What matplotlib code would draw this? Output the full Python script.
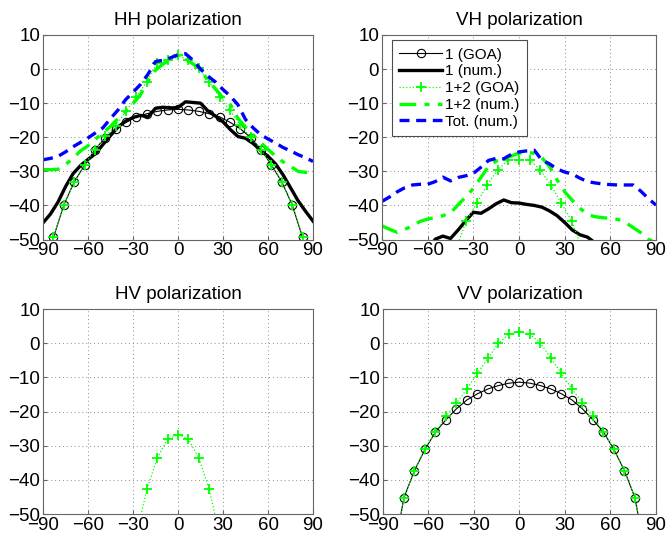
import numpy as np
import matplotlib
matplotlib.use("Agg")
import matplotlib.pyplot as plt

plt.rcParams['font.family'] = ['Liberation Sans', 'DejaVu Sans']
plt.rcParams['axes.unicode_minus'] = True

# angle grids
goa_x = np.linspace(-90, 90, 27)          # GOA samples (180/26 deg step)
num_x = np.arange(-90, 91, 5)             # numerical samples

# ---- HH ----
hh_goa1 = [np.nan, -49.4, -39.9, -33.1, -28.2, -23.6, -20.1, -17.5, -15.6, -14.0, -13.1, -12.4, -12.0,
           -11.8, -12.0, -12.4, -13.1, -14.0, -15.6, -17.5, -20.1, -23.6, -28.2, -33.1, -39.9, -49.4, np.nan]
hh_goa12 = [np.nan, -49.4, -39.9, -33.1, -28.2, -23.6, -19.7, -16.7, -12.3, -8.1, -3.7, 1.8, 2.6,
            4.0, 2.6, 0.3, -3.8, -8.2, -12.1, -16.5, -19.9, -23.6, -28.2, -33.1, -39.9, -49.4, np.nan]
hh_num1 = [-45.1, -42.5, -39.0, -34.5, -30.7, -28.3, -26.5, -24.8, -22.1, -19.5, -17.0, -15.3, -14.2,
           -13.6, -14.0, -11.5, -11.2, -11.4, -11.3, -9.6, -9.8, -10.0, -12.3, -13.8, -15.5, -17.8,
           -19.8, -20.3, -21.8, -23.8, -25.6, -27.8, -31.0, -34.8, -38.6, -41.7, -44.6]
hh_num12 = [-29.5, -29.5, -29.4, -28.0, -26.2, -24.0, -22.5, -20.5, -18.8, -16.8, -14.5, -12.5, -10.2,
            -7.5, -3.5, -0.3, 1.5, 2.7, 4.2, 3.0, 1.5, 0.0, -3.5, -5.8, -8.5, -10.5, -14.5, -17.0,
            -19.3, -21.5, -23.6, -25.5, -27.2, -28.5, -30.0, -30.3, -30.3]
hh_tot = [-26.6, -26.2, -25.6, -24.3, -22.8, -21.5, -20.2, -18.7, -17.2, -14.5, -12.0, -9.0, -6.8,
          -4.5, -1.5, 2.2, 2.6, 3.3, 4.2, 4.5, 2.6, 0.0, -2.1, -3.8, -6.0, -8.0, -10.5, -14.8, -17.2,
          -19.2, -20.5, -21.7, -23.0, -24.0, -25.1, -26.0, -27.1]

# ---- VH ----
vh_goa12 = [np.nan] * 7 + [-53.0, -44.5, -39.3, -33.9, -29.5, -26.6,
                           -26.6, -26.6, -29.5, -33.9, -39.3, -44.5, -53.0] + [np.nan] * 7
vh_num1 = [-58, -58, -58, -58, -58, -56, -53, -49.9, -49.0, -49.7, -47.2, -44.5, -42.0, -42.3,
           -41.0, -39.5, -38.4, -39.2, -39.3, -39.7, -40.0, -40.5, -41.6, -43.0, -45.0, -47.2,
           -48.6, -49.3, -51.0, -54, -58, -58, -58, -58, -58, -58, -58]
vh_num12 = [-46.0, -47.0, -47.9, -47.0, -46.0, -44.7, -44.0, -43.6, -43.0, -42.2, -39.8, -37.5, -35.0,
            -31.8, -28.5, -27.0, -26.2, -25.5, -24.6, -24.5, -24.7, -26.0, -28.5, -32.5, -36.0, -38.5,
            -40.8, -42.7, -43.3, -43.6, -43.8, -44.1, -45.0, -46.5, -48.0, -49.9, -51.0]
vh_tot = [-38.8, -37.5, -36.0, -34.8, -34.0, -33.8, -33.8, -33.0, -31.7, -32.8, -31.8, -31.3, -30.6,
          -28.8, -26.8, -26.2, -26.3, -25.0, -24.3, -24.0, -23.8, -26.7, -27.8, -29.3, -30.2, -30.8,
          -32.0, -33.0, -33.4, -33.7, -33.9, -34.0, -34.0, -34.0, -35.8, -38.0, -39.9]

# ---- HV ----
hv_goa12 = [np.nan] * 9 + [-56.0, -42.8, -33.6, -28.0, -26.8, -28.0, -33.6, -42.8, -56.0] + [np.nan] * 9

# ---- VV ----
vv_goa1 = [np.nan, -62.0, -45.2, -37.3, -31.1, -26.0, -22.4, -19.2, -16.6, -14.8, -13.4, -12.4, -11.7,
           -11.4, -11.7, -12.4, -13.4, -14.8, -16.6, -19.2, -22.4, -26.0, -31.1, -37.3, -45.2, -62.0, np.nan]
vv_goa12 = [np.nan, -62.0, -45.2, -37.3, -31.1, -26.0, -21.4, -17.5, -13.4, -8.8, -4.4, 0.0, 2.6,
            3.4, 2.6, 0.0, -4.4, -8.8, -13.4, -17.5, -21.4, -26.0, -31.1, -37.3, -45.2, -62.0, np.nan]

green = (0, 1, 0)
blue = (0, 0, 1)

fig = plt.figure(figsize=(6.66, 5.44), dpi=100)
pos = {'HH': [0.0646, 0.5597, 0.4054, 0.376],
       'VH': [0.5736, 0.5597, 0.4114, 0.376],
       'HV': [0.0646, 0.0551, 0.4054, 0.3768],
       'VV': [0.5750, 0.0551, 0.4099, 0.3768]}


def goa1(ax, y):
    ax.plot(goa_x, y, '-', color='k', lw=0.8, marker='o', ms=6,
            mfc='none', mec='k', mew=0.8, label='1 (GOA)')


def num1(ax, y):
    ax.plot(num_x, y, '-', color='k', lw=2.4, label='1 (num.)')


def goa12(ax, y):
    ax.plot(goa_x, y, ':', color=green, lw=0.9, marker='+', ms=7,
            mew=1.3, label='1+2 (GOA)')


def num12(ax, y):
    ax.plot(num_x, y, '-.', color=green, lw=2.4, dashes=(5, 2.5, 1.5, 2.5), label='1+2 (num.)')


def tot(ax, y):
    ax.plot(num_x, y, '--', color=blue, lw=2.4, dashes=(3, 2), label='Tot. (num.)')


axs = {}
for name in ['HH', 'VH', 'HV', 'VV']:
    ax = fig.add_axes(pos[name])
    axs[name] = ax
    ax.set_xlim(-90, 90)
    ax.set_ylim(-50, 10)
    ax.set_xticks(np.arange(-90, 91, 30))
    ax.set_yticks(np.arange(-50, 11, 10))
    ax.grid(True, linestyle=(0, (1, 3)), color='0.55', lw=0.7)
    ax.tick_params(direction='in', length=3, labelsize=13.5, pad=2, color='0.4')
    ax.set_title(name + ' polarization', fontsize=13.5, pad=7)
    for s in ax.spines.values():
        s.set_linewidth(0.8)
        s.set_color('0.4')

ax = axs['HH']
goa1(ax, hh_goa1)
num1(ax, hh_num1)
goa12(ax, hh_goa12)
num12(ax, hh_num12)
tot(ax, hh_tot)

ax = axs['VH']
goa1(ax, [np.nan] * len(goa_x))
num1(ax, vh_num1)
goa12(ax, vh_goa12)
num12(ax, vh_num12)
tot(ax, vh_tot)
leg = ax.legend(loc='upper left', bbox_to_anchor=(0.035, 0.975), borderaxespad=0,
                fontsize=11, labelspacing=0.18, handlelength=2.8, handletextpad=0.2,
                borderpad=0.5, fancybox=False, framealpha=1, edgecolor='0.3')
leg.get_frame().set_linewidth(0.8)

ax = axs['HV']
goa12(ax, hv_goa12)

ax = axs['VV']
goa1(ax, vv_goa1)
goa12(ax, vv_goa12)

fig.savefig('out.png', dpi=100)
